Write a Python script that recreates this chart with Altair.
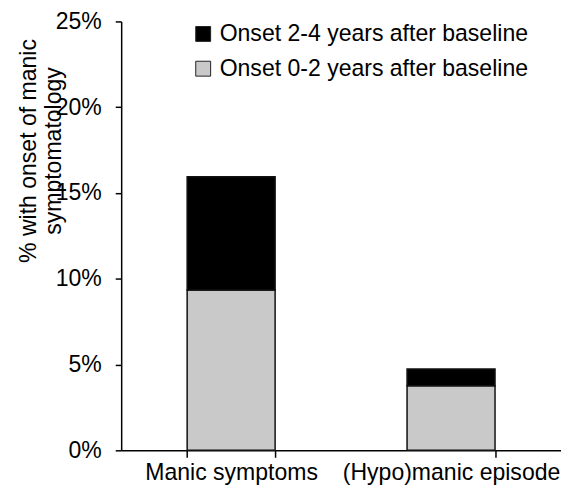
import altair as alt
import pandas as pd

categories = ["Manic symptoms", "(Hypo)manic episode"]
series = ["Onset 2-4 years after baseline", "Onset 0-2 years after baseline"]
onset_0_2 = [9.35, 3.77]
onset_2_4 = [6.6, 0.97]
y_ticks = [0, 5, 10, 15, 20, 25]
colors = ["#000000", "#c9c9c9"]

rows = []
for i, c in enumerate(categories):
    rows.append({"category": c, "series": series[1], "value": onset_0_2[i], "order": 0})
    rows.append({"category": c, "series": series[0], "value": onset_2_4[i], "order": 1})
df = pd.DataFrame(rows)

FONT = "Liberation Sans"
FS = 23.2

chart = alt.Chart(df).mark_bar(stroke="#111111", strokeWidth=1.5).encode(
    x=alt.X(
        "category:N",
        sort=categories,
        scale=alt.Scale(paddingInner=0.6, paddingOuter=0.3),
        axis=alt.Axis(title=None, labelAngle=0, tickBand="extent", tickExtra=True,
                      labelPadding=4, ticks=True, tickSize=7, labelLimit=300),
    ),
    y=alt.Y(
        "value:Q",
        stack="zero",
        scale=alt.Scale(domain=[0, 25]),
        axis=alt.Axis(
            values=y_ticks,
            labelExpr="datum.value + '%'",
            grid=False,
            labelPadding=14,
            title=["% with onset of manic", "symptomatology"],
            titleAngle=270,
            titleX=-104,
            titleY=130,
            titleAlign="center",
            titleBaseline="top",
            titleLineHeight=25,
        ),
    ),
    color=alt.Color(
        "series:N",
        scale=alt.Scale(domain=series, range=colors),
        legend=alt.Legend(
            title=None,
            orient="none",
            legendX=71,
            legendY=1,
            symbolType="square",
            symbolSize=225,
            symbolStrokeColor="#222222",
            symbolStrokeWidth=1,
            labelFontSize=FS,
            labelFont=FONT,
            labelColor="black",
            labelOffset=5,
            labelLimit=400,
            rowPadding=11,
            padding=0,
        ),
    ),
    order=alt.Order("order:Q"),
).properties(
    width=443,
    height=432,
    padding={"left": 114, "top": 11.8, "right": 0, "bottom": 33},
    autosize=alt.AutoSizeParams(type="none"),
).configure_view(
    stroke=None
).configure_axis(
    domainColor="black",
    domainWidth=1.5,
    tickColor="black",
    tickWidth=1.5,
    tickSize=6,
    labelFont=FONT,
    labelFontSize=FS,
    labelColor="black",
    titleFont=FONT,
    titleFontSize=FS,
    titleFontWeight="normal",
    titleColor="black",
)

chart.save("out.html", embed_options={"renderer": "svg", "actions": False})
